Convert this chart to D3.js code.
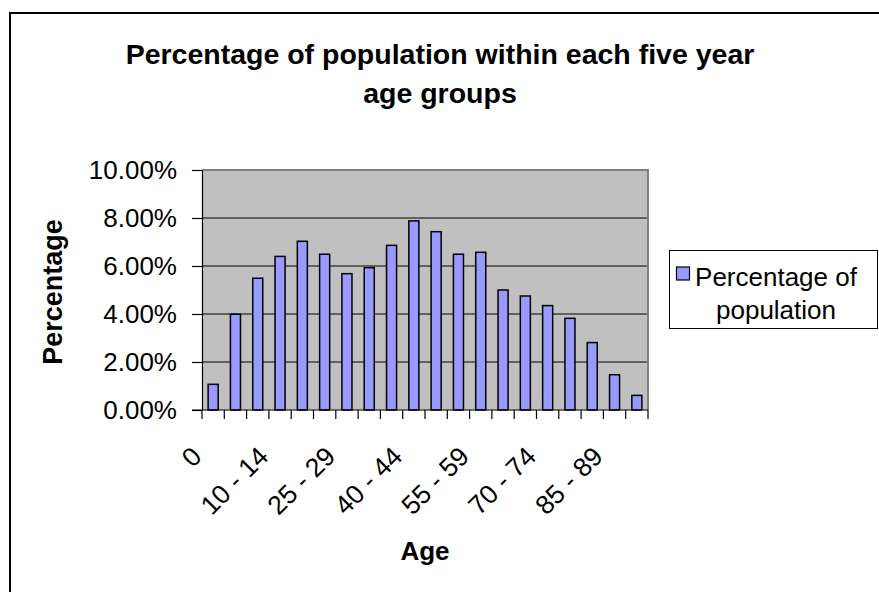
<!DOCTYPE html>
<html>
<head>
<meta charset="utf-8">
<script src="https://cdn.jsdelivr.net/npm/d3@7"></script>
<style>
  html, body { margin: 0; padding: 0; background: #fff; }
  svg { display: block; font-family: "Liberation Sans", Arial, sans-serif; }
</style>
</head>
<body>
<svg id="chart" width="879" height="592"></svg>
<script>
const categories = ["0", "1 - 4", "5 - 9", "10 - 14", "15 - 19", "20 - 24", "25 - 29", "30 - 34",
  "35 - 39", "40 - 44", "45 - 49", "50 - 54", "55 - 59", "60 - 64", "65 - 69", "70 - 74",
  "75 - 79", "80 - 84", "85 - 89", "90+"];
const percentages = [1.07, 3.99, 5.49, 6.40, 7.03, 6.49, 5.68, 5.93, 6.86, 7.88,
  7.43, 6.49, 6.57, 5.00, 4.75, 4.35, 3.82, 2.81, 1.47, 0.61];
const yTicks = [0, 2, 4, 6, 8, 10];
const shownLabels = ["0", "10 - 14", "25 - 29", "40 - 44", "55 - 59", "70 - 74", "85 - 89"];
const titleLines = ["Percentage of population within each five year", "age groups"];
const seriesName = ["Percentage of", "population"];

const svg = d3.select("#chart");
const plot = { left: 202, right: 648, top: 170, bottom: 410 };

// outer chart frame
svg.append("rect").attr("x", 10).attr("y", 13).attr("width", 900).attr("height", 620)
  .attr("fill", "#fff").attr("stroke", "#000").attr("stroke-width", 2);

const xCat = d3.scaleBand().domain(categories).range([plot.left, plot.right]).padding(0);
const xBar = d3.scaleBand().domain(categories).range([plot.left, plot.right])
  .paddingInner(0.55).paddingOuter(0.275);
const y = d3.scaleLinear().domain([0, 10]).range([plot.bottom, plot.top]);

// plot background
svg.append("rect").attr("x", plot.left).attr("y", plot.top)
  .attr("width", plot.right - plot.left).attr("height", plot.bottom - plot.top)
  .attr("fill", "#c0c0c0");

// gridlines
svg.append("g").selectAll("line").data(yTicks.filter(t => t > 0 && t < 10)).join("line")
  .attr("x1", plot.left).attr("x2", plot.right)
  .attr("y1", d => y(d)).attr("y2", d => y(d))
  .attr("stroke", "#000").attr("stroke-width", 1);

// plot border (top + right)
svg.append("path")
  .attr("d", `M${plot.left},${plot.top}H${plot.right}V${plot.bottom}`)
  .attr("fill", "none").attr("stroke", "#808080").attr("stroke-width", 2);

// bars
svg.append("g").selectAll("rect").data(percentages).join("rect")
  .attr("x", (d, i) => xBar(categories[i]))
  .attr("y", d => y(d))
  .attr("width", xBar.bandwidth())
  .attr("height", d => y(0) - y(d))
  .attr("fill", "#9999ff").attr("stroke", "#000").attr("stroke-width", 1.5);

// y axis
const yAxis = d3.axisLeft(y).tickValues(yTicks).tickSize(10).tickSizeOuter(0).tickPadding(15)
  .tickFormat(d => d3.format(".2f")(d) + "%");
const gy = svg.append("g").attr("transform", `translate(${plot.left},0)`).call(yAxis);
gy.select(".domain").attr("stroke", "#000").attr("stroke-width", 1.2);
gy.selectAll(".tick line").attr("stroke", "#000").attr("stroke-width", 1.2);
gy.selectAll("text").attr("font-size", 26).attr("fill", "#000")
  .attr("font-family", "Liberation Sans, Arial, sans-serif");

// x axis line
svg.append("line").attr("x1", plot.left - 10).attr("x2", plot.right)
  .attr("y1", plot.bottom).attr("y2", plot.bottom)
  .attr("stroke", "#000").attr("stroke-width", 1.2);
// x ticks at category boundaries
const boundaries = categories.map(c => xCat(c)).concat([xCat(categories[categories.length - 1]) + xCat.bandwidth()]);
svg.append("g").selectAll("line").data(boundaries).join("line")
  .attr("x1", d => d).attr("x2", d => d)
  .attr("y1", plot.bottom).attr("y2", plot.bottom + 9)
  .attr("stroke", "#000").attr("stroke-width", 1.2);
// x tick labels
svg.append("g").selectAll("text").data(shownLabels).join("text")
  .attr("transform", d => `translate(${xCat(d) + xCat.bandwidth() / 2 - 10},458) rotate(-45)`)
  .attr("text-anchor", "end")
  .attr("font-size", 26.5).attr("fill", "#000")
  .text(d => d);

// axis titles
svg.append("text").attr("x", (plot.left + plot.right) / 2).attr("y", 560)
  .attr("text-anchor", "middle").attr("font-size", 26).attr("font-weight", "bold")
  .text("Age");
svg.append("text").attr("transform", `translate(62,${(plot.top + plot.bottom) / 2 + 2}) rotate(-90)`)
  .attr("text-anchor", "middle").attr("font-size", 27).attr("font-weight", "bold")
  .text("Percentage");

// chart title
svg.append("g").selectAll("text").data(titleLines).join("text")
  .attr("x", 440).attr("y", (d, i) => 64 + i * 39)
  .attr("text-anchor", "middle").attr("font-size", 28.5).attr("font-weight", "bold")
  .text(d => d);

// legend
const lg = svg.append("g");
lg.append("rect").attr("x", 669.5).attr("y", 250.5).attr("width", 208).attr("height", 78)
  .attr("fill", "#fff").attr("stroke", "#000").attr("stroke-width", 1);
lg.append("rect").attr("x", 676.5).attr("y", 267).attr("width", 13).attr("height", 13)
  .attr("fill", "#9999ff").attr("stroke", "#000").attr("stroke-width", 1.2);
lg.selectAll("text.lt").data(seriesName).join("text").attr("class", "lt")
  .attr("x", 776).attr("y", (d, i) => 286 + i * 33)
  .attr("text-anchor", "middle").attr("font-size", 26)
  .text(d => d);
</script>
</body>
</html>
